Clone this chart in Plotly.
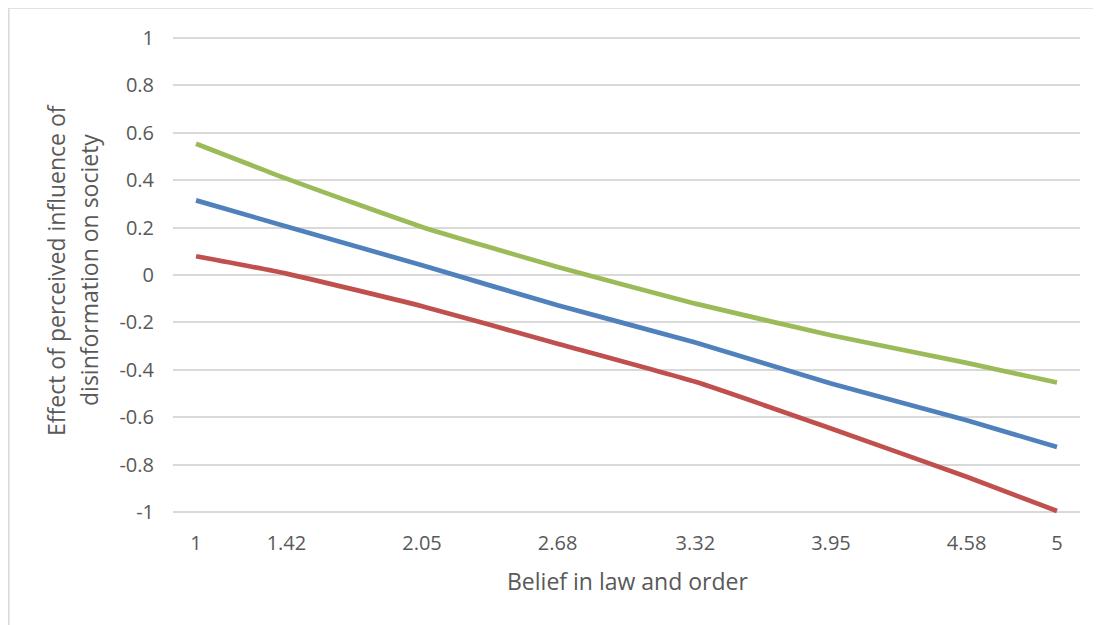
import plotly.graph_objects as go

# ---- data ----
belief = [1, 1.42, 2.05, 2.68, 3.32, 3.95, 4.58, 5]
x_tick_labels = ["1", "1.42", "2.05", "2.68", "3.32", "3.95", "4.58", "5"]
series_green = [0.554, 0.407, 0.203, 0.034, -0.121, -0.254, -0.371, -0.454]
series_blue = [0.315, 0.205, 0.041, -0.128, -0.285, -0.458, -0.613, -0.726]
series_red = [0.079, 0.006, -0.132, -0.290, -0.451, -0.648, -0.852, -0.996]
y_tick_vals = [1, 0.8, 0.6, 0.4, 0.2, 0, -0.2, -0.4, -0.6, -0.8, -1]
y_tick_labels = ["1", "0.8", "0.6", "0.4", "0.2", "0", "-0.2", "-0.4", "-0.6", "-0.8", "-1"]

# page body has an 8px margin, so work in window pixels minus 8
OFF = 8
W, H = 1101 - OFF, 625 - OFF
L, R, T, B = 173 - OFF, 21, 31 - OFF, 106
PW, PH = W - L - R, H - T - B

def px(x):
    return (x - OFF - L) / PW

def py(y):
    return (H - B - (y - OFF)) / PH

FONT = "Open Sans"
TXT = "#595959"

fig = go.Figure()
for ys, col in [(series_green, "#9BBB59"), (series_blue, "#4F81BD"), (series_red, "#C0504D")]:
    fig.add_trace(go.Scatter(
        x=belief, y=ys, mode="lines",
        line=dict(color=col, width=4.7, shape="spline", smoothing=0.5),
        showlegend=False, hoverinfo="skip",
    ))

fig.update_layout(
    width=W, height=H,
    margin=dict(l=L, r=R, t=T, b=B, pad=0),
    paper_bgcolor="white", plot_bgcolor="white",
    font=dict(family=FONT, color=TXT, size=20),
    xaxis=dict(
        range=[0.893, 5.107], tickvals=belief, ticktext=x_tick_labels,
        showgrid=False, zeroline=False, showline=False, ticks="",
        ticklabelstandoff=10, tickfont=dict(size=20, color=TXT),
    ),
    yaxis=dict(
        range=[-1.03, 1.03], tickvals=y_tick_vals, ticktext=y_tick_labels,
        showgrid=True, gridcolor="#D9D9D9", gridwidth=1.5,
        zeroline=False, showline=False, ticks="",
        ticklabelstandoff=18, tickfont=dict(size=20, color=TXT),
    ),
    shapes=[
        dict(type="line", xref="paper", yref="paper", x0=px(8.8), x1=px(1101), y0=py(8), y1=py(8),
             line=dict(color="#D9D9D9", width=1.5)),
        dict(type="line", xref="paper", yref="paper", x0=px(8.8), x1=px(8.8), y0=py(8), y1=py(625),
             line=dict(color="#D9D9D9", width=1.5)),
    ],
    annotations=[
        dict(text="Belief in law and order", xref="paper", yref="paper",
             x=px(627), y=py(581), xanchor="center", yanchor="middle", showarrow=False,
             font=dict(size=23, color=TXT, family=FONT)),
        dict(text="Effect of perceived influence of", xref="paper", yref="paper",
             x=px(56), y=py(270), xanchor="center", yanchor="middle", showarrow=False,
             textangle=-90, font=dict(size=23, color=TXT, family=FONT)),
        dict(text="disinformation on society", xref="paper", yref="paper",
             x=px(89), y=py(270), xanchor="center", yanchor="middle", showarrow=False,
             textangle=-90, font=dict(size=23, color=TXT, family=FONT)),
    ],
)

fig.write_html("out.html")
